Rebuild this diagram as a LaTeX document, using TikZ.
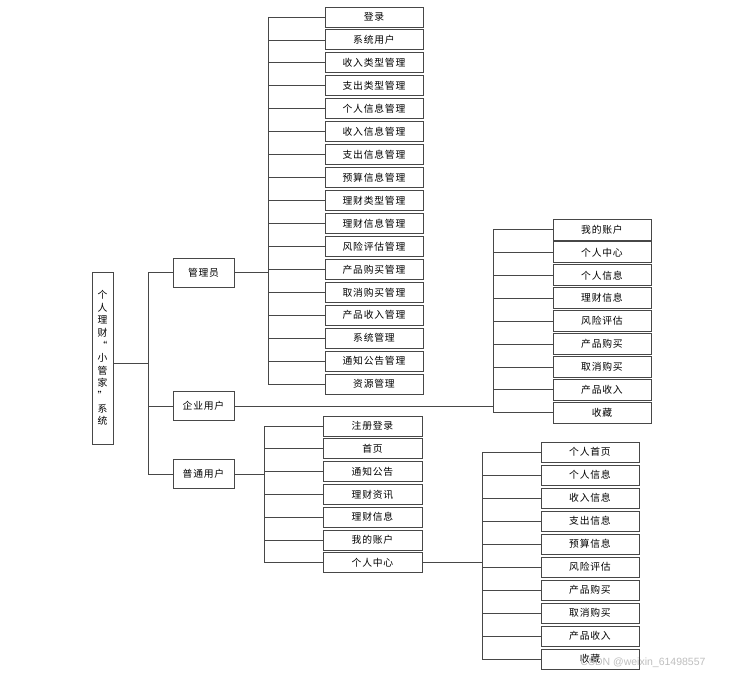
\documentclass[tikz,border=0pt]{standalone}
\usepackage{fontspec}
\newfontfamily\cjk{Noto Sans CJK SC}[LetterSpace=8]
\newfontfamily\wmfont{Liberation Sans}
\begin{document}
\begin{tikzpicture}[x=1pt,y=-1pt,
  box/.style={draw=black!72,line width=0.9pt,fill=white,inner sep=0pt,font=\cjk\fontsize{9.8}{10}\selectfont},
  leaf/.style={box,minimum width=98pt,minimum height=20pt},
  lvl/.style={box,minimum width=61pt,minimum height=29pt},
  wire/.style={draw=black!72,line width=0.8pt}]
\useasboundingbox (0,0) rectangle (735,676);
\fill[white] (0,0) rectangle (735,676);

% root
\node[box,minimum width=21pt,minimum height=172pt,align=center,font=\cjk\fontsize{9.8}{12.6}\selectfont] (root) at (102.5,358)
 {个\\人\\理\\财\\“\\小\\管\\家\\”\\系\\统};

% level 1
\node[lvl] (adm) at (203.5,272.5) {管理员};
\node[lvl] (ent) at (203.5,406) {企业用户};
\node[lvl] (usr) at (203.5,474) {普通用户};

% admin children
\foreach \t [count=\i from 0] in {登录,系统用户,收入类型管理,支出类型管理,个人信息管理,收入信息管理,支出信息管理,预算信息管理,理财类型管理,理财信息管理,风险评估管理,产品购买管理,取消购买管理,产品收入管理,系统管理,通知公告管理,资源管理}
  \node[leaf] (a\i) at (374,{17+22.94*\i}) {\t};

% enterprise children
\foreach \t [count=\i from 0] in {我的账户,个人中心,个人信息,理财信息,风险评估,产品购买,取消购买,产品收入,收藏}
  \node[leaf,minimum height=21pt] (e\i) at (602,{229.5+22.9*\i}) {\t};

% normal user children
\foreach \t [count=\i from 0] in {注册登录,首页,通知公告,理财资讯,理财信息,我的账户,个人中心}
  \node[leaf,minimum width=99pt] (u\i) at (372.5,{426+22.8*\i}) {\t};

% personal center children
\foreach \t [count=\i from 0] in {个人首页,个人信息,收入信息,支出信息,预算信息,风险评估,产品购买,取消购买,产品收入,收藏}
  \node[leaf] (p\i) at (590,{452+23*\i}) {\t};

% bus coordinates
\coordinate (trunk) at (148,363);
\coordinate (abus) at (268,0);
\coordinate (ebus) at (493,0);
\coordinate (ubus) at (264,0);
\coordinate (pbus) at (482,0);

% root to level 1
\draw[wire] (root.east |- trunk) -- (trunk);
\draw[wire] (trunk |- adm.west) -- (trunk |- usr.west);
\foreach \n in {adm,ent,usr} \draw[wire] (trunk |- \n.west) -- (\n.west);

% admin tree
\draw[wire] (adm.east) -- (abus |- adm.east);
\draw[wire] (abus |- a0.west) -- (abus |- a16.west);
\foreach \i in {0,...,16} \draw[wire] (abus |- a\i.west) -- (a\i.west);

% enterprise tree
\draw[wire] (ent.east) -- (ebus |- ent.east);
\draw[wire] (ebus |- e0.west) -- (ebus |- e8.west);
\foreach \i in {0,...,8} \draw[wire] (ebus |- e\i.west) -- (e\i.west);

% normal user tree
\draw[wire] (usr.east) -- (ubus |- usr.east);
\draw[wire] (ubus |- u0.west) -- (ubus |- u6.west);
\foreach \i in {0,...,6} \draw[wire] (ubus |- u\i.west) -- (u\i.west);

% personal center tree
\draw[wire] (u6.east) -- (pbus |- u6.east);
\draw[wire] (pbus |- p0.west) -- (pbus |- p9.west);
\foreach \i in {0,...,9} \draw[wire] (pbus |- p\i.west) -- (p\i.west);

% watermark
\node[text=black!25,font=\wmfont\fontsize{10.5}{12}\selectfont,inner sep=0pt] (wm) at (643,663) {CSDN @weixin\_61498557};
\end{tikzpicture}
\end{document}
